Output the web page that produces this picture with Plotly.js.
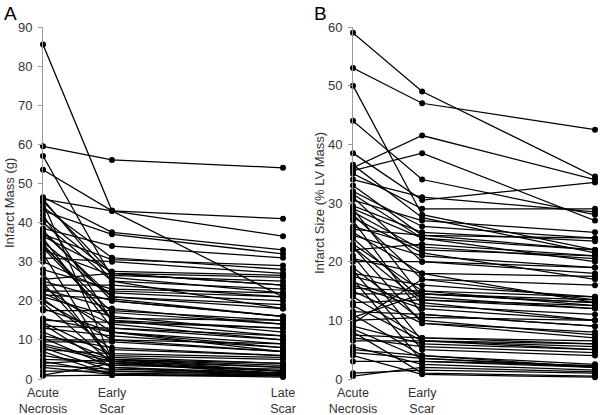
<!DOCTYPE html>
<html>
<head>
<meta charset="utf-8">
<script src="https://cdn.plot.ly/plotly-3.0.1.min.js"></script>
<style>html,body{margin:0;padding:0;background:#fff}#chart{width:600px;height:415px}</style>
</head>
<body>
<div id="chart"></div>
<script>
// Time-point categories and their (uneven) positions on the x axis
var stageLabels = ["Acute<br>Necrosis", "Early<br>Scar", "Late<br>Scar"];
var stagePosA = [0, 1, 3.48];
var stagePosB = [0, 1, 3.5];

// Panel A: Infarct Mass (g), one entry per patient
var acuteA = [85.5,59.5,57,53.5,46.5,46,45.5,45,44,43,41,40,38.5,38,37,36.5,35,34,33,32,36,30,34.5,25.5,25,24.5,23,22.5,22,21,20,19.5,18,17.5,15.5,15,14.5,14,13,11,10.5,10,9,8.5,8,7.5,7,6,5,4.5,4,3.5,3,1,0.8,46,42,31,28,24,23.5,21.5,13.5,9.5,12,27,20.5,2,37.5,33.5];
var earlyA = [43,56,26,43,37.5,43,27,5,31,37,27,25,34,20,30.5,27.5,21,17,26.5,4,13,22,15,27,20,5.5,18,22.5,14,16,10,4,12,17.5,12,14.5,6,3,11,8,3,10,5,4.5,2,6.5,1,3.5,4.5,1.5,5,2.5,1.2,4,1,25,15,30,23,24,12,20.5,13,9.5,5,4.5,7.5,2,21,15.5];
var lateA  = [41,54,22,36.5,33,21,26,2,28,32,24,18,31,16,29,26.5,18,14,25,1.5,10,20,11,24,16,4,14,21,10,12,7,2,9,15,8,13,5,1,8,6,1.5,9,3,2,1,5.5,0.8,2.5,3,1,4,1.5,0.8,2,0.5,23,13,27,22,21,7,16,11,7,3.5,1,6,1.5,19,15];

// Panel B: Infarct Size (% LV Mass), one entry per patient
var acuteB = [59,53,50,44,38.5,36,35.5,35,34,32,31.5,31,29.5,29,28.5,28,27,25.5,25,24.5,23,22.5,22,21,20,18,17.5,17,16,15.5,15,14.5,14,11.5,11,10,9.5,9,8.5,8,7,6.5,5.5,5,4,3,1,0.5,26,30.5,24,19,12.5,16.5,33,20.5,13,27.5,22.5,18.5,7.5,4.5,36.5,29,10.5];
var earlyB = [49,47,28,34,30.5,41.5,38.5,29,31,26,24,20,25,14,22,17,11,24.5,18,21,15,13,23,6.5,20,16,14.5,3,12,15,9.5,14.5,7,11,4,10.5,17,6,3.5,1,5.5,6.5,2.5,4,0.8,3,1.5,2,22.5,27,13.5,10,6.5,12.5,24.5,18,13.5,21.5,9.5,5,7,3.5,27.5,24,14.5];
var lateB  = [34.5,42.5,22,28,33.5,34,27,29,28.5,24,22,18,23.5,12,21,13.5,9,22,13,19,12.5,10,21,5,19,14,13,2,10,14,8,13.5,6,9,2.5,10,16,5,2,0.5,4.5,6,1.5,2,0.3,2.3,1,1.2,20.5,25,12,7.5,5.5,11,24,17.5,12.5,17,7,4,6.5,2.2,21.5,20,13];

function buildTrace(acute, early, late, pos, xa, ya) {
  var xs = [], ys = [];
  for (var i = 0; i < acute.length; i++) {
    xs.push(pos[0], pos[1], pos[2], null);
    ys.push(acute[i], early[i], late[i], null);
  }
  return {
    type: "scatter", mode: "lines+markers", x: xs, y: ys,
    xaxis: xa, yaxis: ya, connectgaps: false, cliponaxis: false,
    line: {color: "#000", width: 1.25},
    marker: {color: "#000", size: 6},
    hoverinfo: "skip", showlegend: false
  };
}

var data = [
  buildTrace(acuteA, earlyA, lateA, stagePosA, "x", "y"),
  buildTrace(acuteB, earlyB, lateB, stagePosB, "x2", "y2")
];

var fam = "Liberation Sans, Arial, sans-serif";
var tickFont = {family: fam, size: 13, color: "#333"};
var xTickFont = {family: fam, size: 12.5, color: "#333"};
var yDom = [(415-379)/415, (415-27)/415];

function xAxis(dom, rng, pos, anchor) {
  return {domain: dom, range: rng, tickvals: pos, ticktext: stageLabels,
          showgrid: false, zeroline: false, showline: false, ticks: "",
          ticklabelstandoff: 4, tickfont: xTickFont, anchor: anchor, automargin: false};
}
function yAxis(rng, anchor) {
  return {domain: yDom, range: rng, dtick: 10, showgrid: false, zeroline: false, showline: true,
          linecolor: "#999", linewidth: 1, ticks: "outside", ticklen: 4, tickcolor: "#999",
          ticklabelstandoff: 3, tickfont: tickFont, anchor: anchor, automargin: false};
}

var layout = {
  width: 600, height: 415,
  margin: {l: 0, r: 0, t: 0, b: 0},
  paper_bgcolor: "#fff", plot_bgcolor: "rgba(0,0,0,0)",
  font: tickFont,
  xaxis: xAxis([43/600, 283/600], [0, 3.48], stagePosA, "y"),
  yaxis: yAxis([0, 90], "x"),
  xaxis2: xAxis([353/600, 595/600], [0, 3.5], stagePosB, "y2"),
  yaxis2: yAxis([0, 60], "x2"),
  annotations: [
    {text: "A", showarrow: false, font: {family: fam, size: 19, color: "#000"},
     xref: "paper", yref: "paper", x: 2/600, y: 1 - 1/415, xanchor: "left", yanchor: "top"},
    {text: "B", showarrow: false, font: {family: fam, size: 19, color: "#000"},
     xref: "paper", yref: "paper", x: 312/600, y: 1 - 1/415, xanchor: "left", yanchor: "top"},
    {text: "Infarct Mass (g)", textangle: -90, showarrow: false, font: tickFont,
     xref: "paper", yref: "paper", x: 9/600, y: (415-203)/415, xanchor: "center", yanchor: "middle"},
    {text: "Infarct Size (% LV Mass)", textangle: -90, showarrow: false, font: tickFont,
     xref: "paper", yref: "paper", x: 319/600, y: (415-203)/415, xanchor: "center", yanchor: "middle"}
  ]
};

Plotly.newPlot("chart", data, layout, {staticPlot: true, displayModeBar: false});
</script>
</body>
</html>
